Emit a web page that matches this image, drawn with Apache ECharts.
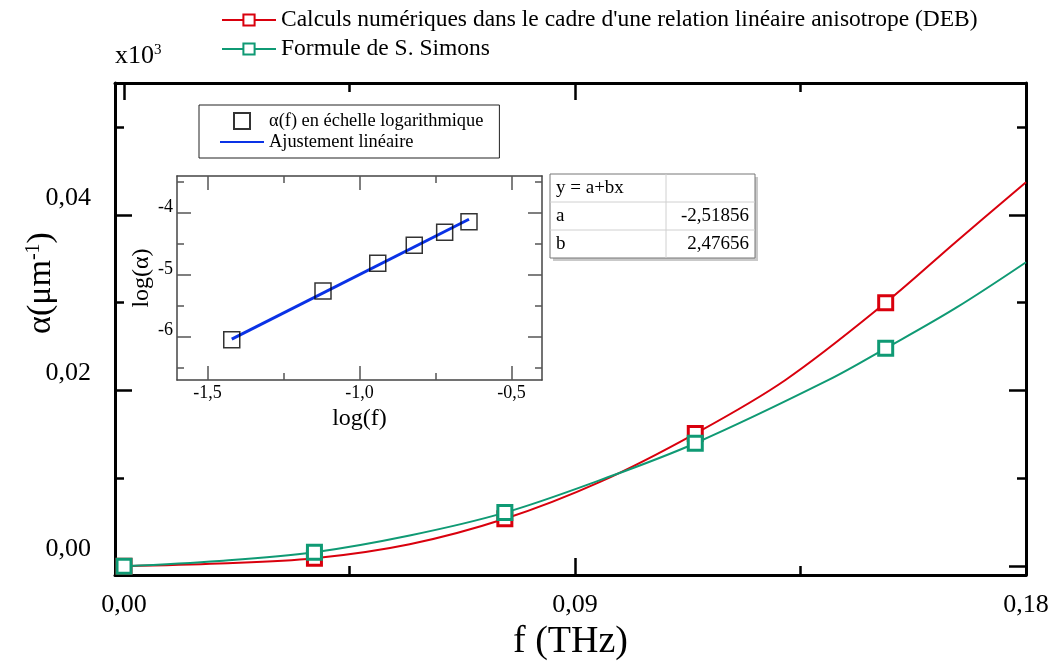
<!DOCTYPE html>
<html>
<head>
<meta charset="utf-8">
<script src="https://cdn.jsdelivr.net/npm/echarts@6/dist/echarts.min.js"></script>
<style>html,body{margin:0;padding:0;background:#fff}#c{width:1056px;height:662px}</style>
</head>
<body>
<div id="c"></div>
<script>
// ---- Main chart data (f in THz, alpha in µm^-1, axis shown x10^3) ----
const markerF = [0, 0.038, 0.076, 0.114, 0.152];
const curveF_DEB = [0, 0.019, 0.038, 0.057, 0.076, 0.095, 0.114, 0.132, 0.152, 0.166, 0.18];
const curveA_DEB = [0, 0.0003, 0.0009, 0.0025, 0.0054, 0.0096, 0.0151, 0.0212, 0.0300, 0.0369, 0.0437];
const curveF_Simons = [0, 0.019, 0.038, 0.057, 0.076, 0.095, 0.114, 0.1406, 0.152, 0.166, 0.18];
const curveA_Simons = [0, 0.0006, 0.0016, 0.0035, 0.0061, 0.0098, 0.0140, 0.0212, 0.0248, 0.0294, 0.0346];
const xMajorTicks = [0, 0.09, 0.18];
const xMinorTicks = [0.045, 0.135];
const yMajorTicks = [0, 0.02, 0.04];
const yMinorTicks = [0.01, 0.03, 0.05];

// ---- Inset data (log scale) ----
const logF = [-1.42, -1.12, -0.94, -0.82, -0.72, -0.64];
const logA = [-6.05, -5.26, -4.81, -4.52, -4.31, -4.14];
const fitX = [-1.42, -0.64];
const fitY = [-6.04, -4.10];
const insetXMajor = [-1.5, -1.0, -0.5];
const insetXMinor = [-1.25, -0.75];
const insetYMajor = [-6, -5, -4];
const insetYMinor = [-6.5, -5.5, -4.5, -3.5];

// ---- Fit table ----
const tableRows = [['y = a+bx', ''], ['a', '-2,51856'], ['b', '2,47656']];

const RED = '#d9000d', GREEN = '#0f9a74', BLUE = '#0a32e6';
const FONT = '"Liberation Serif", "Times New Roman", serif';
const comma = (d) => (v) => v.toFixed(d).replace('.', ',');
const NAME_DEB = 'Calculs numériques dans le cadre d\'une relation linéaire anisotrope (DEB)';
const NAME_SIM = 'Formule de S. Simons';
const NAME_LOG = 'α(f) en échelle logarithmique';
const NAME_FIT = 'Ajustement linéaire';

function curveData(fs, as) {
  return fs.map((f, i) => markerF.indexOf(f) >= 0 ? [f, as[i]] : {value: [f, as[i]], symbol: 'none'});
}

const X0 = {min: -0.0018, max: 0.18};
const Y0 = {min: -0.001, max: 0.055};
function mainX(pos, ticks, len, line, labels) {
  return {type: 'value', gridIndex: 0, position: pos, ...X0,
    axisLine: {show: line, onZero: false, lineStyle: {color: '#000', width: 3}},
    axisTick: {show: true, inside: true, length: len, customValues: ticks, lineStyle: {color: '#000', width: 2.5}},
    axisLabel: labels ? {show: true, customValues: xMajorTicks, formatter: comma(2), fontSize: 26, fontFamily: FONT, color: '#000', margin: 17} : {show: false},
    splitLine: {show: false}};
}
function mainY(pos, ticks, len, line, labels) {
  return {type: 'value', gridIndex: 0, position: pos, ...Y0,
    axisLine: {show: line, onZero: false, lineStyle: {color: '#000', width: 3}},
    axisTick: {show: true, inside: true, length: len, customValues: ticks, lineStyle: {color: '#000', width: 2.5}},
    axisLabel: labels ? {show: true, customValues: yMajorTicks, formatter: comma(2), fontSize: 26, fontFamily: FONT, color: '#000', margin: 24, verticalAlign: 'bottom', lineHeight: 34} : {show: false},
    splitLine: {show: false}};
}
const IX = {min: -1.6, max: -0.4};
const IY = {min: -6.7, max: -3.4};
function insetX(pos, ticks, len, line, labels) {
  return {type: 'value', gridIndex: 1, position: pos, ...IX,
    axisLine: {show: line, onZero: false, lineStyle: {color: '#444', width: 1.5}},
    axisTick: {show: true, inside: true, length: len, customValues: ticks, lineStyle: {color: '#555', width: 1.5}},
    axisLabel: labels ? {show: true, customValues: insetXMajor, formatter: comma(1), fontSize: 18, fontFamily: FONT, color: '#000', margin: 4} : {show: false},
    splitLine: {show: false}};
}
function insetY(pos, ticks, len, line, labels) {
  return {type: 'value', gridIndex: 1, position: pos, ...IY,
    axisLine: {show: line, onZero: false, lineStyle: {color: '#444', width: 1.5}},
    axisTick: {show: true, inside: true, length: len, customValues: ticks, lineStyle: {color: '#555', width: 1.5}},
    axisLabel: labels ? {show: true, customValues: insetYMajor, formatter: (v) => String(Math.round(v)), fontSize: 18, fontFamily: FONT, color: '#000', margin: 4, verticalAlign: 'bottom', lineHeight: 12} : {show: false},
    splitLine: {show: false}};
}

const xAxes = [
  Object.assign(mainX('bottom', xMajorTicks, 17, true, true), {name: 'f (THz)', nameLocation: 'middle', nameGap: 45, nameTextStyle: {fontSize: 38, fontFamily: FONT, color: '#000'}}),
  mainX('bottom', xMinorTicks, 9, false, false),
  mainX('top', xMajorTicks, 17, true, false),
  mainX('top', xMinorTicks, 9, false, false),
  Object.assign(insetX('bottom', insetXMajor, 14, true, true), {name: 'log(f)', nameLocation: 'middle', nameGap: 27, nameTextStyle: {fontSize: 24, fontFamily: FONT, color: '#000'}}),
  insetX('bottom', insetXMinor, 7, false, false),
  insetX('top', insetXMajor, 14, true, false),
  insetX('top', insetXMinor, 7, false, false)
];
const yAxes = [
  mainY('left', yMajorTicks, 17, true, true),
  mainY('left', yMinorTicks, 9, false, false),
  mainY('right', yMajorTicks, 17, true, false),
  mainY('right', yMinorTicks, 9, false, false),
  Object.assign(insetY('left', insetYMajor, 14, true, true), {name: 'log(α)', nameLocation: 'middle', nameGap: 23, nameTextStyle: {fontSize: 24, fontFamily: FONT, color: '#000'}}),
  insetY('left', insetYMinor, 7, false, false),
  insetY('right', insetYMajor, 14, true, false),
  insetY('right', insetYMinor, 7, false, false)
];

// table graphics
const TX = 550, TY = 174, TW = 205, RH = 28, C1 = 116;
const tableEls = [
  {type: 'rect', shape: {x: TX + 3, y: TY + 3, width: TW, height: RH * 3}, style: {fill: '#c9c9c9'}, z: 10},
  {type: 'rect', shape: {x: TX, y: TY, width: TW, height: RH * 3}, style: {fill: '#fff', stroke: '#777', lineWidth: 1}, z: 11},
  {type: 'line', shape: {x1: TX, y1: TY + RH, x2: TX + TW, y2: TY + RH}, style: {stroke: '#d0d0d0', lineWidth: 1}, z: 12},
  {type: 'line', shape: {x1: TX, y1: TY + 2 * RH, x2: TX + TW, y2: TY + 2 * RH}, style: {stroke: '#d0d0d0', lineWidth: 1}, z: 12},
  {type: 'line', shape: {x1: TX + C1, y1: TY, x2: TX + C1, y2: TY + 3 * RH}, style: {stroke: '#d0d0d0', lineWidth: 1}, z: 12}
];
tableRows.forEach((r, i) => {
  tableEls.push({type: 'text', x: TX + 6, y: TY + RH * i + RH / 2, z: 13,
    style: {text: r[0], font: '19px ' + FONT, fill: '#000', textAlign: 'left', textVerticalAlign: 'middle'}});
  if (r[1]) tableEls.push({type: 'text', x: TX + TW - 6, y: TY + RH * i + RH / 2, z: 13,
    style: {text: r[1], font: '19px ' + FONT, fill: '#000', textAlign: 'right', textVerticalAlign: 'middle'}});
});

const option = {
  backgroundColor: '#fff',
  animation: false,
  textStyle: {fontFamily: FONT},
  grid: [
    {left: 115, top: 83, right: 30, bottom: 87, outerBoundsMode: 'none', containLabel: false},
    {left: 177, top: 176, width: 365, height: 204, outerBoundsMode: 'none', containLabel: false}
  ],
  xAxis: xAxes,
  yAxis: yAxes,
  legend: [
    {data: [NAME_DEB, NAME_SIM],
     orient: 'vertical', left: 216, top: 3, itemWidth: 54, itemHeight: 14, itemGap: 5,
     textStyle: {fontSize: 23.5, fontFamily: FONT, color: '#000'}},
    {data: [
       {name: NAME_LOG, icon: 'path://M0,0H10V10H0Z'},
       {name: NAME_FIT, itemStyle: {color: 'rgba(0,0,0,0)', borderWidth: 0, opacity: 0}}
     ],
     orient: 'vertical', left: 199, top: 105, itemWidth: 44, itemHeight: 16, itemGap: 3,
     padding: [7, 16, 7, 20], borderColor: '#222', borderWidth: 1, backgroundColor: '#fff',
     textStyle: {fontSize: 18.4, fontFamily: FONT, color: '#000'}}
  ],
  graphic: [
    {type: 'text', left: 115, top: 43,
     style: {text: 'x10{s|3}', font: '26px ' + FONT, fill: '#000', rich: {s: {fontSize: 15, verticalAlign: 'top', fontFamily: FONT}}}},
    {type: 'text', x: 41, y: 283, rotation: Math.PI / 2,
     style: {text: 'α(μm{s|-1})', font: '34px ' + FONT, fill: '#000', textAlign: 'center', textVerticalAlign: 'middle',
       rich: {s: {fontSize: 20, verticalAlign: 'top', fontFamily: FONT}}}},
    ...tableEls
  ],
  series: [
    {name: NAME_DEB, type: 'line',
     xAxisIndex: 0, yAxisIndex: 0, data: curveData(curveF_DEB, curveA_DEB), smooth: 0.35,
     symbol: 'rect', symbolSize: 14, showAllSymbol: true,
     lineStyle: {color: RED, width: 2}, itemStyle: {color: '#fff', borderColor: RED, borderWidth: 3}, z: 3},
    {name: NAME_SIM, type: 'line',
     xAxisIndex: 0, yAxisIndex: 0, data: curveData(curveF_Simons, curveA_Simons), smooth: 0.35,
     symbol: 'rect', symbolSize: 14, showAllSymbol: true,
     lineStyle: {color: GREEN, width: 2}, itemStyle: {color: '#fff', borderColor: GREEN, borderWidth: 3}, z: 4},
    {name: NAME_FIT, type: 'line', xAxisIndex: 4, yAxisIndex: 4,
     data: fitX.map((x, i) => [x, fitY[i]]), symbol: 'none', lineStyle: {color: BLUE, width: 3}, z: 5},
    {name: NAME_LOG, type: 'scatter', xAxisIndex: 4, yAxisIndex: 4,
     data: logF.map((x, i) => [x, logA[i]]), symbol: 'rect', symbolSize: 16,
     itemStyle: {color: 'rgba(255,255,255,0)', borderColor: '#000', borderWidth: 1.5}, z: 6}
  ]
};
const chart = echarts.init(document.getElementById('c'), null, {renderer: 'canvas'});
chart.setOption(option);
</script>
</body>
</html>
